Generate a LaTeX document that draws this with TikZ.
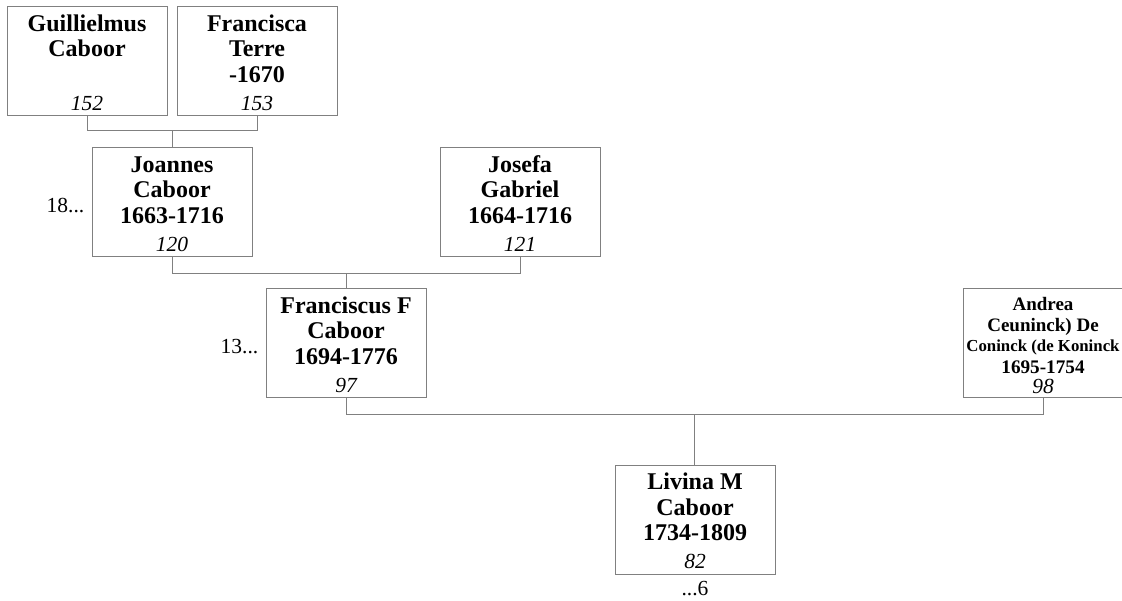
\documentclass[tikz,border=0pt]{standalone}
\usepackage{fontspec}
\setmainfont{Liberation Serif}
\usetikzlibrary{positioning, calc}

\begin{document}
\begin{tikzpicture}[x=1pt, y=-1pt,
	person/.style={draw=black!50, line width=1pt, minimum width=160pt, minimum height=109pt, inner sep=0pt},
	link/.style={draw=black!50, line width=1pt},
	nameline/.style={anchor=base, inner sep=0pt, font=\fontsize{24}{26}\selectfont\bfseries},
	idno/.style={anchor=base, inner sep=0pt, font=\fontsize{21.5}{25}\selectfont\itshape},
	more/.style={anchor=base east, inner sep=0pt, font=\fontsize{21.5}{25}\selectfont}]

	\useasboundingbox (0,0) rectangle (1122,601);

	% boxes
	\foreach \id/\cx/\cy in {guil/87/61.5, fran/257/61.5, joan/172/202.5, jose/520/202.5, franc/346/343.5, andr/1043/343.5, livi/695/519.5}
	{
		\node[person] (\id) at (\cx,\cy) {};
	}

	% names and numbers
	\foreach \id/\lines/\num in {guil/{Guillielmus,Caboor}/152, fran/{Francisca,Terre,-1670}/153, joan/{Joannes,Caboor,1663-1716}/120, jose/{Josefa,Gabriel,1664-1716}/121, franc/{Franciscus F,Caboor,1694-1776}/97, livi/{Livina M,Caboor,1734-1809}/82}
	{
		\foreach \line [count=\i] in \lines {
			\pgfmathsetmacro\dy{25+25.5*(\i-1)}
			\node[nameline] (\id-l\i) at ($(\id.north)+(0,\dy)$) {\line};
		}
		\node[idno] (\id-no) at ($(\id.south)+(0,-6)$) {\num};
	}

	\node[nameline, font=\fontsize{19}{21}\selectfont\bfseries] (andr-l1) at ($(andr.north)+(0,22)$) {Andrea};
	\node[nameline, font=\fontsize{19}{21}\selectfont\bfseries] (andr-l2) at ($(andr.north)+(0,43)$) {Ceuninck) De};
	\node[nameline, font=\fontsize{16.8}{19}\selectfont\bfseries] (andr-l3) at ($(andr.north)+(0,63)$) {Coninck (de Koninck};
	\node[nameline, font=\fontsize{19.2}{21}\selectfont\bfseries] (andr-l4) at ($(andr.north)+(0,85)$) {1695-1754};
	\node[idno, font=\fontsize{21.5}{24}\selectfont\itshape] (andr-no) at ($(andr.south)+(0,-5)$) {98};

	\node[more] (joan-more) at ($(joan.west)+(-7,10)$) {18...};
	\node[more] (franc-more) at ($(franc.west)+(-7,10.5)$) {13...};
	\node[more, anchor=base] (livi-more) at ($(livi.south)+(0,21)$) {...6};

	% family lines
	\coordinate (bar1) at ($(guil.south)!.5!(fran.south)+(0,14)$);
	\coordinate (bar2) at ($(joan.south)!.5!(jose.south)+(0,16)$);
	\coordinate (bar3) at ($(franc.south)!.5!(andr.south)+(0,16)$);

	\draw[link] (guil.south) |- (bar1) -| (fran.south);
	\draw[link] (bar1) -- (joan.north);
	\draw[link] (joan.south) |- (bar2) -| (jose.south);
	\draw[link] (bar2) -- (franc.north);
	\draw[link] (franc.south) |- (bar3) -| (andr.south);
	\draw[link] (bar3) -- (bar3 |- livi.north);

\end{tikzpicture}
\end{document}
